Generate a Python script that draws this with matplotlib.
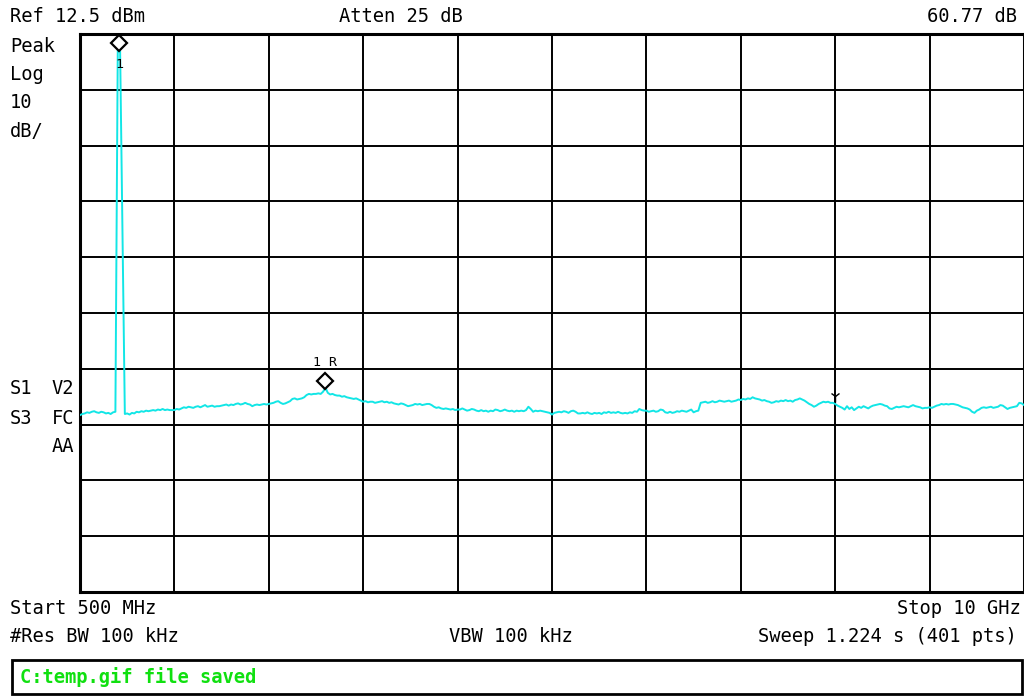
import numpy as np
import matplotlib
matplotlib.use("Agg")
import matplotlib.pyplot as plt
import matplotlib.transforms as mtrans
from matplotlib.patches import Rectangle

# ---------------- data ----------------
start_hz = 500e6
stop_hz = 10e9
ref_level = 12.5
db_per_div = 10

trace_dbm = [
    -55.8, -55.6, -55.5, -55.3, -55.4, -55.2, -55.1, -55.3, -55.4, -55.2,
    -55.3, -55.5, -55.4, -55.6, -55.3, -55.2,
    9.6, 9.4,
    -23.5,
    -55.6, -55.5, -55.7, -55.4, -55.5, -55.2, -55.3, -55.1, -55.2, -55.0, -55.1,
    -55.0, -54.9, -55.0, -54.8, -54.9, -54.7, -54.9, -54.8, -54.9, -54.9,
    -54.9, -54.7, -54.8, -54.6, -54.4, -54.5, -54.3, -54.4, -54.5, -54.3,
    -54.2, -54.4, -54.2, -54.0, -54.3, -54.2, -54.1, -54.3, -54.2, -54.2,
    -54.1, -54.0, -53.9, -54.1, -53.9, -54.0, -53.8, -53.7, -53.9, -53.8,
    -53.6, -53.8, -53.9, -54.2, -54.0, -53.9, -54.0, -53.9, -53.8, -53.9,
    -53.8, -53.7, -53.6, -53.4, -53.3, -53.6, -53.8, -53.7, -53.5, -53.3,
    -52.9, -52.8, -53.0, -52.9, -52.8, -52.6, -52.2, -52.0, -52.1, -52.0,
    -52.0, -51.9, -52.0, -51.6, -50.9, -51.8, -52.1, -52.0, -52.2, -52.3,
    -52.3, -52.5, -52.4, -52.6, -52.7, -52.8, -52.9, -52.8, -53.0, -53.2,
    -53.4, -53.3, -53.5, -53.4, -53.4, -53.6, -53.5, -53.4, -53.3, -53.5,
    -53.4, -53.6, -53.5, -53.7, -53.8, -53.9, -53.7, -53.8, -54.0, -54.2,
    -54.1, -54.0, -53.8, -53.9, -53.8, -54.0, -53.9, -53.8, -53.8, -54.0,
    -54.3, -54.5, -54.4, -54.6, -54.7, -54.6, -54.7, -54.8, -54.7, -54.9,
    -54.8, -54.8, -54.6, -54.8, -55.0, -54.9, -54.7, -54.8, -55.0, -55.1,
    -54.9, -55.1, -55.0, -55.2, -55.0, -55.1, -54.8, -54.9, -55.1, -55.0,
    -54.8, -55.0, -55.1, -55.0, -55.2, -55.0, -55.1, -55.0, -55.1, -54.9,
    -54.3, -54.7, -55.2, -55.0, -55.1, -55.0, -55.1, -55.2, -55.3, -55.4,
    -55.7, -55.4, -55.3, -55.2, -55.3, -55.1, -55.2, -55.4, -55.1, -55.0,
    -55.2, -55.5, -55.5, -55.4, -55.5, -55.3, -55.5, -55.6, -55.4, -55.5,
    -55.4, -55.6, -55.3, -55.4, -55.2, -55.4, -55.3, -55.4, -55.2, -55.4,
    -55.5, -55.4, -55.5, -55.3, -55.4, -55.1, -55.2, -54.7, -54.9, -55.0,
    -55.0, -55.2, -55.1, -55.0, -55.2, -55.1, -54.8, -54.9, -55.3, -55.4,
    -55.2, -55.4, -55.3, -55.1, -55.2, -55.0, -55.1, -55.2, -55.0, -54.8,
    -55.3, -55.1, -55.0, -53.6, -53.5, -53.4, -53.6, -53.5, -53.3, -53.5,
    -53.4, -53.2, -53.3, -53.4, -53.3, -53.2, -53.4, -53.3, -53.2, -53.0,
    -53.1, -52.9, -53.0, -52.8, -52.9, -52.6, -52.8, -52.9, -53.0, -53.2,
    -53.1, -53.3, -53.4, -53.6, -53.5, -53.3, -53.4, -53.2, -53.3, -53.1,
    -53.3, -53.2, -53.4, -53.1, -53.0, -52.8, -53.0, -53.2, -53.5, -53.8,
    -54.0, -54.3, -54.1, -53.8, -53.6, -53.4, -53.5, -53.4, -53.6, -53.6,
    -53.8, -54.1, -54.3, -54.5, -54.8, -54.2, -54.7, -54.4, -54.9, -54.6,
    -54.3, -54.5, -54.2, -54.4, -54.6, -54.3, -54.1, -54.0, -53.9, -53.8,
    -53.9, -54.1, -54.2, -54.6, -54.7, -54.5, -54.3, -54.4, -54.3, -54.2,
    -54.3, -54.4, -54.2, -54.0, -54.2, -54.3, -54.4, -54.6, -54.5, -54.5,
    -54.4, -54.5, -54.3, -54.1, -54.0, -53.8, -53.9, -53.8, -53.9, -53.8,
    -53.8, -53.9, -54.0, -54.2, -54.4, -54.5, -54.6, -54.8, -55.2, -55.4,
    -55.0, -54.8, -54.5, -54.4, -54.5, -54.4, -54.3, -54.5, -54.4, -54.3,
    -54.0, -54.1, -54.4, -54.7, -54.5, -54.4, -54.3, -54.2, -53.6, -53.7,
    -54.0,
]

marker_idx = [16, 104]
marker_labels = ["1", "1R"]
aux_marker_idx = 320

header_left = "Ref 12.5 dBm"
header_mid = "Atten 25 dB"
header_right = "60.77 dB"
side_top = ["Peak", "Log", "10", "dB/"]
side_mid_left = ["S1", "S3"]
side_mid_right = ["V2", "FC", "AA"]
foot_start = "Start 500 MHz"
foot_stop = "Stop 10 GHz"
foot_rbw = "#Res BW 100 kHz"
foot_vbw = "VBW 100 kHz"
foot_sweep = "Sweep 1.224 s (401 pts)"
status_msg = "C:temp.gif file saved"

# ---------------- figure ----------------
W, H = 1024, 696
fig = plt.figure(figsize=(W / 100, H / 100), dpi=100)
fig.patch.set_facecolor("white")

def fx(px):
    return px / W

def fy(py):
    return 1 - py / H

ax_l, ax_r, ax_t, ax_b = 80, 1024, 34, 592
ax = fig.add_axes([fx(ax_l), fy(ax_b), fx(ax_r - ax_l), (ax_b - ax_t) / H])

freqs = np.linspace(start_hz, stop_hz, len(trace_dbm))
trace = np.array(trace_dbm)
bottom = ref_level - 10 * db_per_div

ax.set_xlim(start_hz, stop_hz)
ax.set_ylim(bottom, ref_level)
ax.set_xticks(np.linspace(start_hz, stop_hz, 11))
ax.set_yticks(np.linspace(bottom, ref_level, 11))
ax.tick_params(length=0, labelbottom=False, labelleft=False)
ax.grid(True, color="black", linewidth=1.4)
for s in ax.spines.values():
    s.set_linewidth(2.2)
    s.set_color("black")

ax.plot(freqs, trace, color="#12e6e6", linewidth=1.4, zorder=3, clip_on=True)

FONT = "DejaVu Sans Mono"
up5 = mtrans.ScaledTranslation(0, 5 / 72, fig.dpi_scale_trans)
for idx, lab in zip(marker_idx, marker_labels):
    xf, yv = freqs[idx], trace[idx]
    if idx == 16:
        xf = (freqs[16] + freqs[17]) / 2
    ax.plot([xf], [yv], marker="D", markersize=8, markerfacecolor="white",
            markeredgecolor="black", markeredgewidth=1.6, linestyle="none",
            zorder=5, transform=ax.transData + up5, clip_on=False)
    off = (0, -10) if lab == "1" else (0, 18)
    ax.annotate(lab if lab == "1" else "1 R", xy=(xf, yv), xytext=off,
                textcoords="offset points", ha="center", va="center",
                fontsize=9.5, family=FONT, zorder=6)

up6 = mtrans.ScaledTranslation(0, 6 / 72, fig.dpi_scale_trans)
ax.plot([freqs[aux_marker_idx]], [trace[aux_marker_idx]], marker="1", markersize=8,
        color="black", linestyle="none", zorder=5, transform=ax.transData + up6)

fs = 13.5
txt = dict(family=FONT, fontsize=fs, color="black", va="center")
fig.text(fx(10), fy(17), header_left, ha="left", **txt)
fig.text(fx(339), fy(17), header_mid, ha="left", **txt)
fig.text(fx(1017), fy(17), header_right, ha="right", **txt)
for i, s in enumerate(side_top):
    fig.text(fx(10), fy(46 + i * 28.5), s, ha="left", **txt)
for i, s in enumerate(side_mid_left):
    fig.text(fx(10), fy(389 + i * 29), s, ha="left", **txt)
for i, s in enumerate(side_mid_right):
    fig.text(fx(74), fy(389 + i * 29), s, ha="right", **txt)

fig.text(fx(10), fy(609), foot_start, ha="left", **txt)
fig.text(fx(1021), fy(609), foot_stop, ha="right", **txt)
fig.text(fx(10), fy(637), foot_rbw, ha="left", **txt)
fig.text(fx(449), fy(637), foot_vbw, ha="left", **txt)
fig.text(fx(1017), fy(637), foot_sweep, ha="right", **txt)

box = Rectangle((fx(12), fy(694)), fx(1010), 34 / H, transform=fig.transFigure,
                facecolor="white", edgecolor="black", linewidth=2.0)
fig.patches.append(box)
fig.text(fx(20), fy(677), status_msg, ha="left", va="center", family=FONT,
         fontsize=fs, fontweight="bold", color="#10e010")

fig.savefig("out.png", dpi=100, facecolor="white")
